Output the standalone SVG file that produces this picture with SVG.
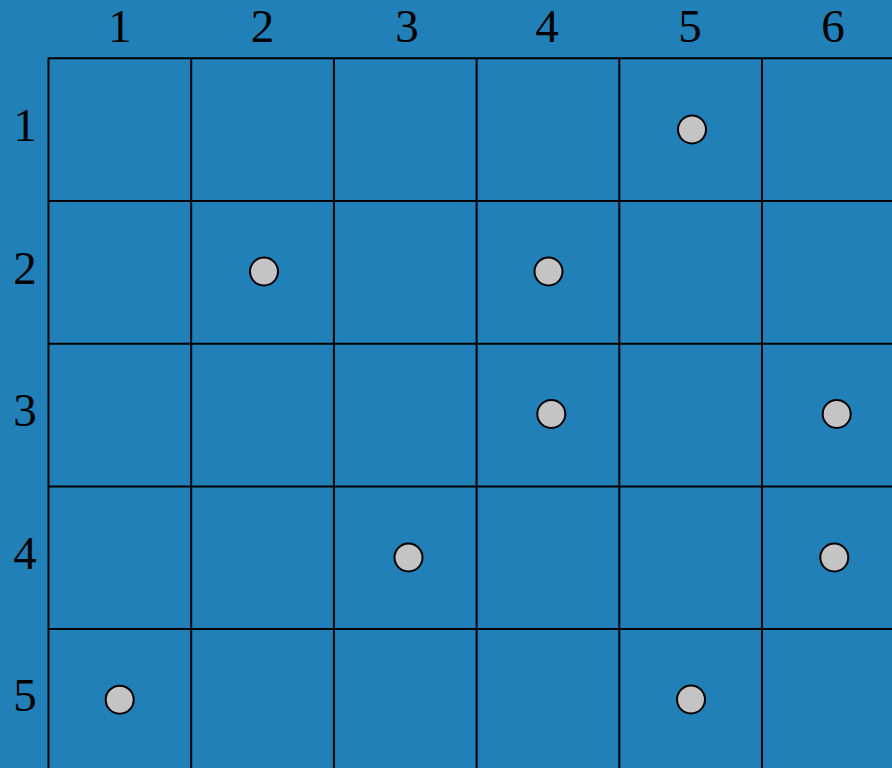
<svg xmlns="http://www.w3.org/2000/svg" width="892" height="768" viewBox="0 0 892 768">
<style>
.bg{fill:#2180b7}
.grid line{stroke:#000;stroke-width:2}
.lbl{font-family:"Liberation Serif","Times New Roman",serif;font-size:47px;fill:#000;text-anchor:middle}
.dot{fill:#c4c4c4;stroke:#000;stroke-width:2}
</style>
<rect class="bg" x="0" y="0" width="892" height="768"/>
<g id="grid" class="grid">
<path d="M48.5,780 V58.3 H900" fill="none" stroke="#000" stroke-width="2" stroke-linejoin="round"/>
<line x1="191.2" y1="58.3" x2="191.2" y2="780"/>
<line x1="333.9" y1="58.3" x2="333.9" y2="780"/>
<line x1="476.6" y1="58.3" x2="476.6" y2="780"/>
<line x1="619.3" y1="58.3" x2="619.3" y2="780"/>
<line x1="762" y1="58.3" x2="762" y2="780"/>
<line x1="48.5" y1="201" x2="900" y2="201"/>
<line x1="48.5" y1="343.7" x2="900" y2="343.7"/>
<line x1="48.5" y1="486.4" x2="900" y2="486.4"/>
<line x1="48.5" y1="629.1" x2="900" y2="629.1"/>
</g>
<g id="col-labels">
<text class="lbl" x="119.8" y="42">1</text>
<text class="lbl" x="262.5" y="42">2</text>
<text class="lbl" x="407" y="42">3</text>
<text class="lbl" x="547" y="42">4</text>
<text class="lbl" x="690" y="42">5</text>
<text class="lbl" x="833" y="42">6</text>
</g>
<g id="row-labels">
<text class="lbl" x="25" y="141">1</text>
<text class="lbl" x="25" y="283.5">2</text>
<text class="lbl" x="25" y="426">3</text>
<text class="lbl" x="25" y="568.5">4</text>
<text class="lbl" x="25" y="711">5</text>
</g>
<g id="points">
<circle class="dot" cx="692" cy="129.5" r="14"/>
<circle class="dot" cx="264" cy="271.5" r="14"/>
<circle class="dot" cx="548.5" cy="271.5" r="14"/>
<circle class="dot" cx="551.3" cy="414" r="14"/>
<circle class="dot" cx="836.7" cy="414" r="14"/>
<circle class="dot" cx="408.5" cy="557.5" r="14"/>
<circle class="dot" cx="834.3" cy="557.5" r="14"/>
<circle class="dot" cx="119.7" cy="699.7" r="14"/>
<circle class="dot" cx="691" cy="699.5" r="14"/>
</g>
</svg>
